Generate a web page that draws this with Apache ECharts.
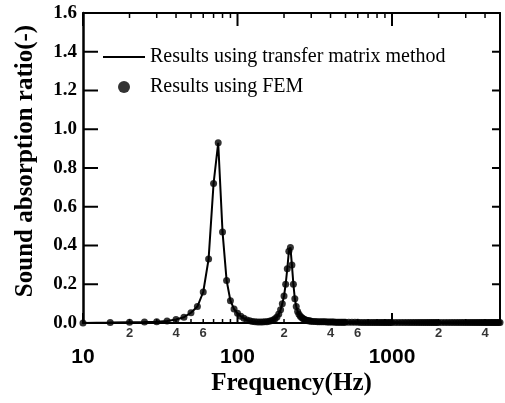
<!DOCTYPE html>
<html lang="en">
<head>
<meta charset="UTF-8">
<title>Sound absorption ratio</title>
<script src="https://cdn.jsdelivr.net/npm/echarts@6/dist/echarts.min.js"></script>
<style>
    html, body { margin: 0; padding: 0; background: #fff; }
    #main { width: 505px; height: 403px; }
</style>
</head>
<body>
<div id="main"></div>
<script>
    // frequencies (Hz) of the computed points
    var freqHz = [
        10, 15, 20, 25, 30, 35, 40, 45, 50, 55, 60, 65, 70, 75, 80, 85, 90,
        95, 100, 105, 110, 115, 120, 125, 130, 135, 140, 145, 150, 155, 160, 165, 170, 175, 180, 185, 190,
        195, 200, 205, 210, 215, 220, 225, 230, 235, 240, 245, 250, 255, 260, 265, 270, 275, 280, 285, 290, 295, 300,
        310, 320, 330, 340, 350, 360, 370, 380, 390, 400, 410, 420, 430, 440, 450, 460, 470, 480, 490, 500,
        525, 550, 575, 600, 625, 650, 675, 700, 725, 750, 775, 800, 825, 850, 875, 900, 925, 950, 975, 1000,
        1050, 1100, 1150, 1200, 1250, 1300, 1350, 1400, 1450, 1500, 1550, 1600, 1650, 1700, 1750, 1800, 1850, 1900, 1950, 2000,
        2100, 2200, 2300, 2400, 2500, 2600, 2700, 2800, 2900, 3000, 3100, 3200, 3300, 3400, 3500,
        3600, 3700, 3800, 3900, 4000, 4100, 4200, 4300, 4400, 4500, 4600, 4700, 4800, 4900, 5000
    ];
    // sound absorption ratio
    var absorptionRatio = [
        0.000, 0.002, 0.004, 0.005, 0.007, 0.010, 0.018, 0.030, 0.053, 0.085, 0.160, 0.330, 0.720, 0.930, 0.470, 0.220, 0.115,
        0.072, 0.050, 0.035, 0.024, 0.016, 0.011, 0.008, 0.006, 0.005, 0.005, 0.005, 0.006, 0.007, 0.009, 0.012, 0.016, 0.022, 0.031, 0.046, 0.068,
        0.100, 0.140, 0.200, 0.280, 0.370, 0.390, 0.300, 0.200, 0.125, 0.085, 0.060, 0.045, 0.035, 0.028, 0.023, 0.019, 0.016, 0.014, 0.012, 0.011, 0.010, 0.009,
        0.008, 0.008, 0.007, 0.007, 0.006, 0.006, 0.006, 0.005, 0.005, 0.005, 0.005, 0.005, 0.004, 0.004, 0.004, 0.004, 0.004, 0.004, 0.004, 0.004,
        0.004, 0.004, 0.004, 0.004, 0.003, 0.003, 0.003, 0.003, 0.003, 0.003, 0.003, 0.003, 0.003, 0.003, 0.003, 0.003, 0.003, 0.003, 0.003, 0.003,
        0.003, 0.003, 0.003, 0.003, 0.003, 0.003, 0.003, 0.003, 0.003, 0.003, 0.003, 0.003, 0.003, 0.003, 0.003, 0.003, 0.003, 0.003, 0.003, 0.003,
        0.003, 0.003, 0.003, 0.003, 0.003, 0.003, 0.003, 0.003, 0.003, 0.003, 0.003, 0.003, 0.003, 0.003, 0.003,
        0.003, 0.003, 0.003, 0.003, 0.003, 0.003, 0.003, 0.003, 0.003, 0.003, 0.003, 0.003, 0.003, 0.003, 0.003
    ];
    // tick positions and the small "2 4 6" labels between the decades
    var xMajorTicks = [10, 100, 1000];
    var xMinorTicks = [20, 30, 40, 50, 60, 70, 80, 90, 200, 300, 400, 500, 600, 700, 800, 900, 2000, 3000, 4000];
    var yTicks = [0.2, 0.4, 0.6, 0.8, 1.0, 1.2, 1.4];
    var minorLabelValues = [20, 40, 60, 200, 400, 600, 2000, 4000];
    var minorLabelTexts = ['2', '4', '6', '2', '4', '6', '2', '4'];

    var serif = "'Liberation Serif', 'Times New Roman', serif";
    var sans = "'Liberation Sans', Arial, sans-serif";

    var chart = echarts.init(document.getElementById('main'));

    var points = [];
    for (var i = 0; i < freqHz.length; i++) {
        points.push([freqHz[i], absorptionRatio[i]]);
    }
    var minorLabelPoints = [];
    for (var k = 0; k < minorLabelValues.length; k++) {
        minorLabelPoints.push([minorLabelValues[k], 0]);
    }

    var option = {
        backgroundColor: '#fff',
        animation: false,
        grid: { left: 83, right: 5, top: 13, bottom: 80, outerBoundsMode: 'none' },
        legend: {
            orient: 'vertical',
            left: 98,
            top: 42,
            itemWidth: 42,
            itemHeight: 12,
            itemGap: 10,
            selectedMode: false,
            textStyle: { fontFamily: serif, fontSize: 20, color: '#000' },
            data: [
                { name: 'Results using transfer matrix method', icon: 'path://M0,0H42V2H0Z' },
                { name: 'Results using FEM', icon: 'circle' }
            ]
        },
        xAxis: [{
            type: 'log',
            logBase: 10,
            min: 10,
            max: 5000,
            position: 'bottom',
            axisLine: { show: true, onZero: false, lineStyle: { color: '#000', width: 2 } },
            axisTick: { show: false },
            minorTick: { show: false },
            splitLine: { show: false },
            axisLabel: {
                margin: 24,
                showMaxLabel: false,
                fontFamily: sans,
                fontWeight: 'bold',
                fontSize: 21,
                color: '#000',
                formatter: function (v) { return String(Math.round(v)); }
            },
            name: 'Frequency(Hz)',
            nameLocation: 'middle',
            nameGap: 48,
            nameMoveOverlap: false,
            nameTextStyle: { fontFamily: serif, fontWeight: 'bold', fontSize: 25, color: '#000' }
        }, {
            type: 'log',
            logBase: 10,
            min: 10,
            max: 5000,
            position: 'top',
            axisLine: { show: true, onZero: false, lineStyle: { color: '#000', width: 2 } },
            axisTick: { show: false },
            splitLine: { show: false },
            axisLabel: { show: false }
        }],
        yAxis: [{
            type: 'value',
            min: 0,
            max: 1.6,
            interval: 0.2,
            position: 'left',
            axisLine: { show: true, onZero: false, lineStyle: { color: '#000', width: 2.5 } },
            axisTick: { show: false },
            splitLine: { show: false },
            axisLabel: {
                margin: 6,
                fontFamily: serif,
                fontWeight: 'bold',
                fontSize: 19,
                color: '#000',
                formatter: function (v) { return v.toFixed(1); }
            },
            name: 'Sound absorption ratio(-)',
            nameLocation: 'middle',
            nameGap: 45,
            nameMoveOverlap: false,
            nameTextStyle: { fontFamily: serif, fontWeight: 'bold', fontSize: 25, color: '#000', padding: [0, 0, 0, 14] }
        }, {
            type: 'value',
            min: 0,
            max: 1.6,
            interval: 0.2,
            position: 'right',
            axisLine: { show: true, onZero: false, lineStyle: { color: '#000', width: 2 } },
            axisTick: { show: false },
            splitLine: { show: false },
            axisLabel: { show: false }
        }],
        series: [{
            name: 'Results using transfer matrix method',
            type: 'line',
            data: points,
            symbol: 'none',
            lineStyle: { color: '#000', width: 2 },
            itemStyle: { color: '#000' },
            z: 2
        }, {
            name: 'Results using FEM',
            type: 'scatter',
            data: points,
            symbol: 'circle',
            symbolSize: 7,
            itemStyle: { color: '#000' },
            z: 3
        }, {
            // carries the small decade labels under the x axis
            name: 'minor labels',
            type: 'scatter',
            data: minorLabelPoints,
            symbolSize: 1,
            silent: true,
            itemStyle: { color: 'rgba(0,0,0,0)' },
            label: {
                show: true,
                position: 'bottom',
                distance: 3,
                fontFamily: sans,
                fontWeight: 'bold',
                fontSize: 13,
                color: '#000',
                formatter: function (p) { return minorLabelTexts[p.dataIndex]; }
            },
            z: 4
        }]
    };
    chart.setOption(option);

    // inward ticks on all four sides, placed through the axes' own scales
    var ticks = [];
    function tick(x1, y1, x2, y2, w) {
        ticks.push({
            type: 'line',
            silent: true,
            z: 10,
            shape: { x1: x1, y1: y1, x2: x2, y2: y2 },
            style: { stroke: '#000', lineWidth: w }
        });
    }
    var corner0 = chart.convertToPixel({ seriesIndex: 0 }, [10, 0]);
    var corner1 = chart.convertToPixel({ seriesIndex: 0 }, [5000, 1.6]);
    var xLeft = corner0[0], yBottom = corner0[1], xRight = corner1[0], yTop = corner1[1];
    var a, px;
    for (a = 0; a < xMajorTicks.length; a++) {
        px = chart.convertToPixel({ seriesIndex: 0 }, [xMajorTicks[a], 0])[0];
        tick(px, yBottom, px, yBottom - 10, 2);
        tick(px, yTop, px, yTop + 13, 2);
    }
    for (a = 0; a < xMinorTicks.length; a++) {
        px = chart.convertToPixel({ seriesIndex: 0 }, [xMinorTicks[a], 0])[0];
        tick(px, yBottom, px, yBottom - 4, 1.5);
        tick(px, yTop, px, yTop + 5, 1.5);
    }
    for (a = 0; a < yTicks.length; a++) {
        px = chart.convertToPixel({ seriesIndex: 0 }, [10, yTicks[a]])[1];
        tick(xLeft, px, xLeft + 15, px, 2);
        tick(xRight, px, xRight - 8, px, 2);
    }
    chart.setOption({ graphic: ticks });
</script>
</body>
</html>
